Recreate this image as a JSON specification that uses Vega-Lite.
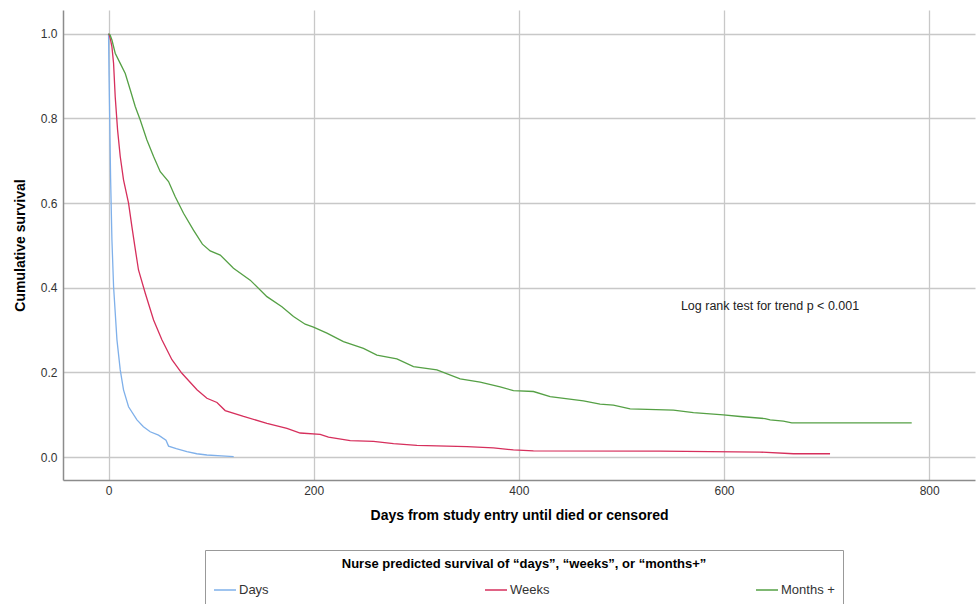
{
  "$schema": "https://vega.github.io/schema/vega-lite/v6.json",
  "width": 912,
  "height": 470,
  "autosize": {"type": "none"},
  "padding": {"left": 63, "top": 10, "right": 2, "bottom": 124},
  "background": "white",
  "config": {"view": {"stroke": null}, "font": "Liberation Sans"},
  "layer": [
    {
      "data": {
        "values": [
          {"g": "Days", "day": 0, "s": 1.0},
          {"g": "Days", "day": 0.5, "s": 0.9},
          {"g": "Days", "day": 1, "s": 0.82},
          {"g": "Days", "day": 2, "s": 0.66},
          {"g": "Days", "day": 3.3, "s": 0.513},
          {"g": "Days", "day": 4.9, "s": 0.403},
          {"g": "Days", "day": 8.2, "s": 0.277},
          {"g": "Days", "day": 11.4, "s": 0.206},
          {"g": "Days", "day": 14.6, "s": 0.159},
          {"g": "Days", "day": 19.5, "s": 0.119},
          {"g": "Days", "day": 27.7, "s": 0.088},
          {"g": "Days", "day": 34, "s": 0.072},
          {"g": "Days", "day": 40.6, "s": 0.06},
          {"g": "Days", "day": 48.7, "s": 0.052},
          {"g": "Days", "day": 56, "s": 0.04},
          {"g": "Days", "day": 58.5, "s": 0.026},
          {"g": "Days", "day": 66, "s": 0.02},
          {"g": "Days", "day": 76.4, "s": 0.013},
          {"g": "Days", "day": 86, "s": 0.008},
          {"g": "Days", "day": 95.9, "s": 0.005},
          {"g": "Days", "day": 110, "s": 0.003},
          {"g": "Days", "day": 122, "s": 0.001},
          {"g": "Weeks", "day": 0, "s": 1.0},
          {"g": "Weeks", "day": 1, "s": 0.995},
          {"g": "Weeks", "day": 2, "s": 0.985},
          {"g": "Weeks", "day": 3.3, "s": 0.969},
          {"g": "Weeks", "day": 4.9, "s": 0.93},
          {"g": "Weeks", "day": 6.5, "s": 0.851},
          {"g": "Weeks", "day": 8.8, "s": 0.773},
          {"g": "Weeks", "day": 11.4, "s": 0.71},
          {"g": "Weeks", "day": 14.6, "s": 0.655},
          {"g": "Weeks", "day": 19.5, "s": 0.6},
          {"g": "Weeks", "day": 22.8, "s": 0.544},
          {"g": "Weeks", "day": 25.5, "s": 0.5},
          {"g": "Weeks", "day": 29.2, "s": 0.442},
          {"g": "Weeks", "day": 35.8, "s": 0.387},
          {"g": "Weeks", "day": 43.9, "s": 0.324},
          {"g": "Weeks", "day": 52.0, "s": 0.277},
          {"g": "Weeks", "day": 61.8, "s": 0.23},
          {"g": "Weeks", "day": 71.5, "s": 0.198},
          {"g": "Weeks", "day": 86.2, "s": 0.159},
          {"g": "Weeks", "day": 95.9, "s": 0.139},
          {"g": "Weeks", "day": 105.7, "s": 0.129},
          {"g": "Weeks", "day": 113.7, "s": 0.11},
          {"g": "Weeks", "day": 131.6, "s": 0.096},
          {"g": "Weeks", "day": 154.4, "s": 0.08},
          {"g": "Weeks", "day": 173.9, "s": 0.068},
          {"g": "Weeks", "day": 186.8, "s": 0.057},
          {"g": "Weeks", "day": 206.3, "s": 0.054},
          {"g": "Weeks", "day": 214.4, "s": 0.047},
          {"g": "Weeks", "day": 235.6, "s": 0.039},
          {"g": "Weeks", "day": 258.3, "s": 0.037},
          {"g": "Weeks", "day": 277.8, "s": 0.032},
          {"g": "Weeks", "day": 300.6, "s": 0.028},
          {"g": "Weeks", "day": 349.3, "s": 0.025},
          {"g": "Weeks", "day": 375.2, "s": 0.022},
          {"g": "Weeks", "day": 394.7, "s": 0.017},
          {"g": "Weeks", "day": 414.2, "s": 0.015},
          {"g": "Weeks", "day": 537.7, "s": 0.014},
          {"g": "Weeks", "day": 635, "s": 0.012},
          {"g": "Weeks", "day": 667.7, "s": 0.008},
          {"g": "Weeks", "day": 703.4, "s": 0.008},
          {"g": "Months +", "day": 0, "s": 1.0},
          {"g": "Months +", "day": 1.5, "s": 0.997},
          {"g": "Months +", "day": 3.3, "s": 0.985},
          {"g": "Months +", "day": 6.5, "s": 0.954},
          {"g": "Months +", "day": 11.4, "s": 0.93},
          {"g": "Months +", "day": 16.3, "s": 0.906},
          {"g": "Months +", "day": 21.2, "s": 0.867},
          {"g": "Months +", "day": 26.0, "s": 0.828},
          {"g": "Months +", "day": 30.9, "s": 0.796},
          {"g": "Months +", "day": 37.4, "s": 0.749},
          {"g": "Months +", "day": 43.9, "s": 0.71},
          {"g": "Months +", "day": 50.4, "s": 0.674},
          {"g": "Months +", "day": 58.5, "s": 0.651},
          {"g": "Months +", "day": 65.0, "s": 0.615},
          {"g": "Months +", "day": 73.1, "s": 0.576},
          {"g": "Months +", "day": 82.8, "s": 0.536},
          {"g": "Months +", "day": 91.5, "s": 0.503},
          {"g": "Months +", "day": 99.1, "s": 0.487},
          {"g": "Months +", "day": 108.9, "s": 0.477},
          {"g": "Months +", "day": 121.8, "s": 0.446},
          {"g": "Months +", "day": 138.1, "s": 0.418},
          {"g": "Months +", "day": 154.4, "s": 0.379},
          {"g": "Months +", "day": 169.0, "s": 0.355},
          {"g": "Months +", "day": 180.3, "s": 0.332},
          {"g": "Months +", "day": 191.7, "s": 0.314},
          {"g": "Months +", "day": 199.8, "s": 0.307},
          {"g": "Months +", "day": 212.9, "s": 0.293},
          {"g": "Months +", "day": 229.0, "s": 0.273},
          {"g": "Months +", "day": 248.5, "s": 0.257},
          {"g": "Months +", "day": 261.6, "s": 0.241},
          {"g": "Months +", "day": 281.1, "s": 0.232},
          {"g": "Months +", "day": 297.3, "s": 0.214},
          {"g": "Months +", "day": 320.1, "s": 0.206},
          {"g": "Months +", "day": 342.8, "s": 0.185},
          {"g": "Months +", "day": 362.3, "s": 0.177},
          {"g": "Months +", "day": 381.8, "s": 0.166},
          {"g": "Months +", "day": 394.7, "s": 0.157},
          {"g": "Months +", "day": 414.2, "s": 0.155},
          {"g": "Months +", "day": 430.5, "s": 0.143},
          {"g": "Months +", "day": 463.0, "s": 0.133},
          {"g": "Months +", "day": 479.2, "s": 0.125},
          {"g": "Months +", "day": 492.2, "s": 0.123},
          {"g": "Months +", "day": 508.5, "s": 0.114},
          {"g": "Months +", "day": 550.7, "s": 0.111},
          {"g": "Months +", "day": 570.2, "s": 0.105},
          {"g": "Months +", "day": 599.4, "s": 0.1},
          {"g": "Months +", "day": 615.7, "s": 0.096},
          {"g": "Months +", "day": 640.0, "s": 0.091},
          {"g": "Months +", "day": 645.0, "s": 0.088},
          {"g": "Months +", "day": 657.9, "s": 0.085},
          {"g": "Months +", "day": 666.1, "s": 0.081},
          {"g": "Months +", "day": 783.0, "s": 0.081}
        ]
      },
      "mark": {"type": "line", "strokeWidth": 1.3, "clip": true},
      "encoding": {
        "x": {
          "field": "day",
          "type": "quantitative",
          "scale": {"domain": [-44.4, 844.7], "nice": false, "zero": false},
          "axis": {
            "values": [0, 200, 400, 600, 800],
            "title": "Days from study entry until died or censored",
            "titleFontSize": 14,
            "titleFontWeight": "bold",
            "titleColor": "#000000",
            "titlePadding": 12,
            "labelFontSize": 12,
            "labelColor": "#333333",
            "labelPadding": 5,
            "ticks": false,
            "domainColor": "#8c8c8c",
            "domainWidth": 1.5,
            "grid": true,
            "gridColor": "#c8c8c8",
            "gridWidth": 1.3
          }
        },
        "y": {
          "field": "s",
          "type": "quantitative",
          "scale": {"domain": [-0.054, 1.056], "nice": false, "zero": false},
          "axis": {
            "values": [0, 0.2, 0.4, 0.6, 0.8, 1.0],
            "format": ".1f",
            "title": "Cumulative survival",
            "titleFontSize": 14,
            "titleFontWeight": "bold",
            "titleColor": "#000000",
            "titlePadding": 13,
            "labelFontSize": 12,
            "labelColor": "#333333",
            "labelPadding": 6,
            "ticks": false,
            "domainColor": "#8c8c8c",
            "domainWidth": 1.5,
            "grid": true,
            "gridColor": "#c8c8c8",
            "gridWidth": 1.3
          }
        },
        "color": {
          "field": "g",
          "type": "nominal",
          "scale": {"domain": ["Days", "Weeks", "Months +"], "range": ["#7fb0ea", "#d62f5c", "#55a045"]},
          "legend": {
            "title": "Nurse predicted survival of “days”, “weeks”, or “months+”",
            "orient": "none",
            "legendX": 142,
            "legendY": 540,
            "direction": "horizontal",
            "columns": 3,
            "gridAlign": "all",
            "columnPadding": 189,
            "symbolType": "stroke",
            "symbolStrokeWidth": 1.5,
            "symbolSize": 484,
            "labelOffset": 2,
            "labelFontSize": 13,
            "labelColor": "#333333",
            "titleFontSize": 13,
            "titleFontWeight": "bold",
            "titleColor": "#000000",
            "titleAnchor": "middle",
            "titleLimit": 800,
            "titlePadding": 7,
            "padding": 8,
            "strokeColor": "#999999",
            "fillColor": "#ffffff"
          }
        }
      }
    },
    {
      "data": {"values": [{"x": 558, "y": 0.357, "label": "Log rank test for trend p < 0.001"}]},
      "mark": {"type": "text", "align": "left", "baseline": "middle", "fontSize": 12.5, "color": "#222222"},
      "encoding": {
        "x": {"field": "x", "type": "quantitative"},
        "y": {"field": "y", "type": "quantitative"},
        "text": {"field": "label"}
      }
    }
  ]
}
